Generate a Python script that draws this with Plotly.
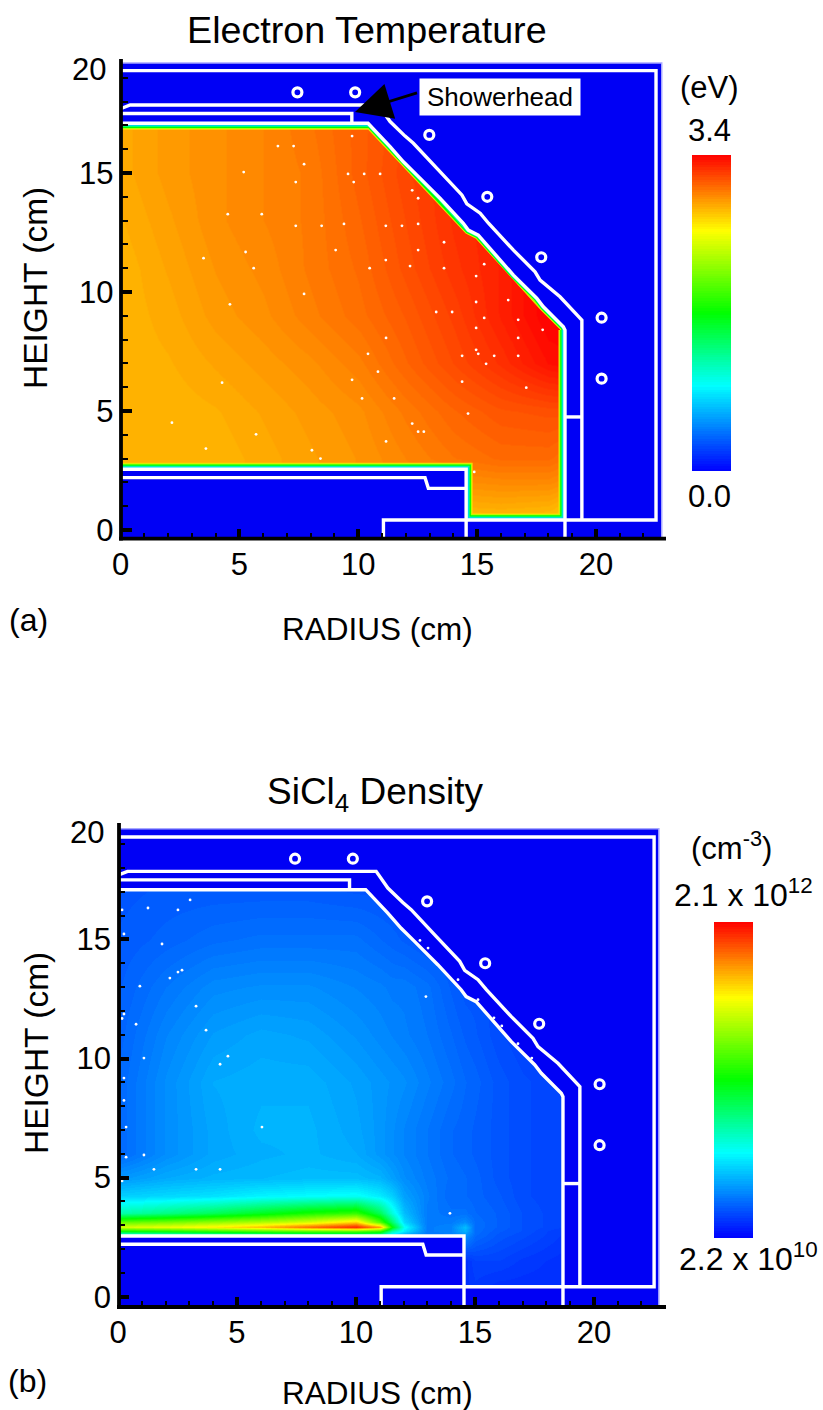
import plotly.graph_objects as go

W, H = 823, 1410
FONT = "Liberation Sans"
BLUE = "#0000F5"

# ---- colour levels (position on each colour bar, 0..1)
temp_x = [0, 2, 4, 6, 8, 10, 12, 14, 16, 18, 18.8]
temp_y = [0.4, 1, 2, 3, 5, 7, 9, 11, 13, 15, 17.2]
temp_level = [
    [.82, .82, .82, .82, .82, .82, .82, .815, .815, .815, .80],
    [.83, .83, .83, .83, .83, .83, .83, .835, .84, .835, .82],
    [.83, .83, .83, .84, .85, .86, .87, .865, .87, .87, .86],
    [.835, .83, .83, .84, .85, .86, .875, .89, .90, .90, .89],
    [.835, .83, .835, .845, .855, .865, .885, .905, .92, .925, .925],
    [.83, .835, .845, .855, .865, .88, .905, .93, .955, .985, .99],
    [.83, .84, .855, .865, .88, .895, .915, .94, .97, 1, 1],
    [.83, .845, .86, .87, .885, .90, .925, .95, .97, 1, 1],
    [.835, .85, .865, .875, .885, .905, .93, .955, .97, 1, 1],
    [.84, .855, .865, .875, .885, .91, .935, .955, .97, 1, 1],
    [.84, .855, .865, .875, .89, .91, .93, .95, .97, 1, 1],
]

sicl4_x = [0, 2, 4, 6, 8, 10, 11, 11.5, 12, 13, 14, 14.6, 15, 16, 17, 18.8]
sicl4_y = [0.4, 1.5, 2.55, 2.75, 2.95, 3.15, 3.5, 4.25, 5, 6, 7, 9, 11, 13, 15, 17.2]
sicl4_level = [
    [.05, .05, .05, .05, .05, .05, .05, .05, .05, .05, .05, .05, .06, .05, .05, .05],
    [.05, .05, .05, .05, .05, .05, .05, .05, .05, .05, .05, .05, .07, .07, .06, .05],
    [.20, .22, .25, .27, .30, .30, .30, .20, .16, .12, .13, .15, .11, .09, .08, .06],
    [.50, .52, .55, .58, .60, .60, .55, .35, .25, .13, .14, .19, .115, .095, .085, .06],
    [.72, .74, .77, .82, .90, .97, .85, .50, .28, .13, .14, .20, .115, .10, .085, .07],
    [.60, .62, .65, .68, .72, .80, .58, .40, .23, .13, .13, .15, .115, .10, .085, .07],
    [.34, .38, .42, .47, .52, .55, .42, .30, .20, .13, .12, .12, .11, .10, .085, .07],
    [.22, .23, .24, .26, .27, .28, .25, .22, .17, .135, .11, .11, .105, .095, .08, .07],
    [.16, .18, .19, .195, .20, .20, .19, .17, .15, .13, .115, .11, .105, .09, .08, .07],
    [.11, .15, .175, .185, .19, .18, .16, .15, .14, .125, .11, .105, .10, .09, .08, .07],
    [.11, .15, .175, .19, .19, .175, .16, .15, .14, .125, .11, .105, .10, .09, .08, .07],
    [.11, .15, .18, .185, .185, .17, .16, .155, .15, .135, .12, .11, .105, .09, .08, .07],
    [.105, .14, .165, .175, .17, .155, .145, .14, .135, .125, .11, .10, .095, .08, .07, .07],
    [.10, .125, .145, .15, .15, .14, .135, .13, .13, .12, .10, .09, .09, .08, .07, .07],
    [.095, .105, .115, .12, .12, .12, .11, .105, .10, .09, .09, .08, .08, .08, .07, .07],
    [.09, .095, .095, .095, .095, .09, .09, .09, .09, .08, .08, .08, .08, .08, .07, .07],
]

# ---- reactor geometry, cm
inner_slant_x = [10.41, 11.34, 11.9, 12.46, 13.44, 14.42, 14.63, 15.05, 15.55, 16.53, 17.51, 17.79, 18.63, 18.7]
inner_slant_y = [17.09, 16.11, 15.47, 14.92, 13.94, 12.89, 12.6, 12.39, 11.84, 10.71, 9.74, 9.38, 8.54, 8.4]
outer_slant_x = [10.85, 11.34, 11.97, 12.32, 13.37, 14.36, 14.57, 15.13, 15.48, 16.53, 17.44, 17.65, 18.49, 19.41]
outer_slant_y = [17.86, 17.16, 16.55, 16.25, 15.13, 14.08, 13.7, 13.31, 12.89, 11.76, 10.85, 10.5, 9.8, 8.82]
flat_top_x = [0, 10.41]
flat_top_y = [17.09, 17.09]
pocket_x = [18.7, 18.7, 14.54, 14.54, 0]
pocket_y = [8.4, 0.42, 0.42, 2.55, 2.55]

wall_x = ([0, 22.53, 22.53, 11.06, 11.06, None]
          + [0, 0.4] + outer_slant_x + [19.41, 19.41, None]
          + [0, 9.73, 9.73, None]
          + flat_top_x + inner_slant_x + [18.7, 18.7, None]
          + [0, 14.54, 14.54, None]
          + [0, 12.81, 12.95, 14.54, None]
          + [18.7, 19.41])
wall_y = ([19.3, 19.3, 0.42, 0.42, -0.45, None]
          + [17.7, 17.86] + outer_slant_y + [8.82, 0.42, None]
          + [17.5, 17.5, 17.09, None]
          + flat_top_y + inner_slant_y + [8.4, -0.45, None]
          + [2.55, 2.55, -0.45, None]
          + [2.2, 2.2, 1.75, 1.75, None]
          + [4.75, 4.75])

ring_x = [7.44, 9.87, 12.99, 15.43, 17.7, 20.24, 20.24]
ring_y = [18.39, 18.39, 16.6, 14.0, 11.46, 8.92, 6.36]

temp_dot_x = [9.74, 6.62, 7.28, 7.72, 5.18, 9.57, 10.25, 10.92, 7.37, 9.81, 4.51, 5.94, 7.37, 8.46, 9.4, 11.16,
              11.84, 12.52, 12.27, 12.52, 9.05, 12.52, 5.26, 3.49, 11.16, 12.18, 5.6, 10.48, 7.72, 13.61, 13.61,
              15.3, 14.96, 16.31, 14.96, 13.28, 13.95, 15.3, 16.73, 14.96, 16.73, 17.76, 11.17, 14.96, 15.05,
              10.41, 15.72, 16.73, 14.37, 15.38, 10.83, 9.74, 14.37, 17.07, 10.16, 11.51, 14.62, 12.27, 12.52,
              12.76, 11.17, 14.88, 4.6, 4.27, 2.16, 5.7, 3.59, 8.05, 8.41]
temp_dot_y = [16.55, 16.13, 16.13, 15.37, 15.04, 14.96, 14.96, 14.96, 14.62, 14.62, 13.27, 13.27, 12.78, 12.78, 12.86,
              12.78, 12.78, 12.86, 14.27, 13.94, 11.76, 11.76, 11.68, 11.42, 11.34, 11.09, 11.0, 11.0, 9.92, 12.09,
              11.0, 11.17, 10.67, 9.66, 9.58, 9.16, 9.16, 8.91, 8.83, 8.49, 8.07, 8.41, 8.07, 7.57, 7.4, 7.4,
              7.32, 7.32, 7.32, 6.98, 6.65, 6.31, 6.23, 5.98, 5.53, 5.53, 4.89, 4.47, 4.13, 4.13, 3.72, 2.44,
              9.48, 6.19, 4.51, 4.02, 3.42, 3.35, 3.0]

sicl4_dot_x = [3.03, 1.26, 2.52, 0.17, 0.25, 1.85, 2.69, 2.52, 2.18, 0.92, 3.28, 0.25, 0.17, 0.76, 3.7, 1.09, 4.62,
               4.29, 0.25, 0.25, 12.69, 13.03, 14.29, 12.94, 15.13, 15.8, 16.13, 16.81, 17.39, 0.34, 6.05, 0.34,
               1.09, 1.51, 3.28, 4.29, 0.17, 13.95]
sicl4_dot_y = [16.66, 16.32, 16.24, 16.24, 15.23, 14.81, 13.71, 13.63, 13.38, 13.04, 12.2, 11.87, 11.68, 11.44, 11.19,
               10.02, 10.1, 9.76, 9.18, 8.24, 14.96, 14.64, 13.31, 12.6, 12.47, 11.71, 11.37, 10.62, 10.02, 7.12,
               7.12, 5.86, 5.95, 5.35, 5.35, 5.35, 4.86, 3.5]

major_ticks = [0, 5, 10, 15]
x_major_ticks = [0, 5, 10, 15, 20]
x_minor_ticks = [1, 2, 3, 4, 6, 7, 8, 9, 11, 12, 13, 14, 16, 17, 18, 19, 21, 22]
y_minor_ticks = [1, 2, 3, 4, 6, 7, 8, 9, 11, 12, 13, 14, 16, 17, 18, 19]

# ---- colour scale: anchors of the rainbow bar, in visible steps
anchors = [(0, (0, 0, 255)), (.27, (0, 255, 255)), (.5, (0, 255, 0)), (.76, (255, 255, 0)), (1, (255, 0, 0))]
STEPS = 128


def colour_at(t):
    for (a, ca), (b, cb) in zip(anchors, anchors[1:]):
        if t <= b:
            f = (t - a) / (b - a)
            return "rgb(%d,%d,%d)" % tuple(round(p + (q - p) * f) for p, q in zip(ca, cb))
    return "rgb(255,0,0)"


colorscale = []
for i in range(STEPS):
    c = colour_at((i + 0.5) / STEPS)
    colorscale += [[i / STEPS, c], [(i + 1) / STEPS, c]]


def px(v):
    return v / W


def py(v):
    return 1 - v / H


fig = go.Figure()


def add_panel(suffix, hx, hy, hz, dots_x, dots_y, blue_right, blue_top, y_bottom, bar_left, bar_top, bar_bottom, edges):
    ax = dict(xaxis="x" + suffix, yaxis="y" + suffix)
    fig.add_trace(go.Heatmap(
        x=hx, y=hy, z=hz, zmin=0, zmax=1, zsmooth="best", colorscale=colorscale,
        colorbar=dict(x=px(bar_left), xanchor="left", xpad=0, y=py(bar_bottom), yanchor="bottom", ypad=0,
                      len=(bar_bottom - bar_top) / H, thickness=38.5, outlinewidth=0,
                      showticklabels=False, ticks=""),
        hoverinfo="skip", **ax))
    if edges:
        for width, col in [(13, "#FFD800"), (11.5, "#B0FF00"), (9.5, "#00FF00"), (7, "#00FFA0"), (5, "#00C8FF")]:
            fig.add_trace(go.Scatter(x=flat_top_x + [None] + pocket_x, y=flat_top_y + [None] + pocket_y, mode="lines",
                                     line=dict(color=col, width=width), showlegend=False, hoverinfo="skip", **ax))
            fig.add_trace(go.Scatter(x=inner_slant_x, y=inner_slant_y, mode="lines",
                                     line=dict(color=col, width=width * 0.65), showlegend=False, hoverinfo="skip", **ax))
    # everything outside the plasma is a flat blue field
    mask_x = flat_top_x + inner_slant_x + pocket_x + [0, blue_right, blue_right, 0]
    mask_y = flat_top_y + inner_slant_y + pocket_y + [y_bottom, y_bottom, blue_top, blue_top]
    fig.add_trace(go.Scatter(x=mask_x, y=mask_y, mode="lines", fill="toself", fillcolor=BLUE,
                             line=dict(width=0), showlegend=False, hoverinfo="skip", **ax))
    fig.add_trace(go.Scatter(x=[0, blue_right, blue_right], y=[blue_top, blue_top, y_bottom], mode="lines",
                             line=dict(color="#A8A8FF", width=1.5), showlegend=False, hoverinfo="skip", **ax))
    fig.add_trace(go.Scatter(x=dots_x, y=dots_y, mode="markers",
                             marker=dict(color="#FFFFFF", size=2.8, line=dict(width=0)),
                             showlegend=False, hoverinfo="skip", **ax))
    fig.add_trace(go.Scatter(x=wall_x, y=wall_y, mode="lines", line=dict(color="#FFFFFF", width=3.4),
                             connectgaps=False, showlegend=False, hoverinfo="skip", **ax))
    fig.add_trace(go.Scatter(x=ring_x, y=ring_y, mode="markers",
                             marker=dict(symbol="circle-open", color="#FFFFFF", size=9, line=dict(width=3.2, color="#FFFFFF")),
                             showlegend=False, hoverinfo="skip", **ax))


add_panel("", temp_x, temp_y, temp_level, temp_dot_x, temp_dot_y, 22.77, 19.62, -0.37, 692, 155, 471, True)
add_panel("2", sicl4_x, sicl4_y, sicl4_level, sicl4_dot_x, sicl4_dot_y, 22.73, 19.65, -0.43, 714, 922, 1238, False)


def axes(left, right, top, bottom, xr, yr, yname):
    tick = dict(ticks="inside", tickcolor="#000000", showgrid=False, zeroline=False, showline=False, automargin=False,
                tickfont=dict(family=FONT, size=31, color="#000000"))
    xa = dict(domain=[px(left), px(right)], range=xr, anchor=yname, tickmode="array", tickvals=x_major_ticks,
              ticklen=10, tickwidth=3.5, ticklabelstandoff=4,
              minor=dict(tickmode="array", tickvals=x_minor_ticks, ticks="inside", ticklen=6, tickwidth=2,
                         tickcolor="#000000", showgrid=False), **tick)
    ya = dict(domain=[py(bottom), py(top)], range=yr, tickmode="array", tickvals=major_ticks,
              ticklen=11, tickwidth=3.5, ticklabelstandoff=6,
              minor=dict(tickmode="array", tickvals=y_minor_ticks, ticks="inside", ticklen=7, tickwidth=2,
                         tickcolor="#000000", showgrid=False), **tick)
    return xa, ya


xa1, ya1 = axes(120.6, 666, 59, 538.7, [0, 22.95], [-0.366, 19.79], "y")
xa2, ya2 = axes(118, 666, 823, 1307, [0, 23.03], [-0.433, 19.89], "y2")
ya1["anchor"] = "x"
ya2["anchor"] = "x2"


def text(s, x, y, size=31, **kw):
    d = dict(text=s, x=px(x), y=py(y), xref="paper", yref="paper", showarrow=False,
             font=dict(family=FONT, size=size, color="#000000"), xanchor="center", yanchor="middle")
    d.update(kw)
    return d


annotations = [
    text("Electron Temperature", 367, 30, 37.7),
    text("SiCl<sub>4</sub> Density", 375, 794, 37),
    text("RADIUS (cm)", 377, 629, 31.5),
    text("RADIUS (cm)", 377, 1393, 31.5),
    text("HEIGHT (cm)", 36, 288, 33.5, textangle=-90),
    text("HEIGHT (cm)", 36, 1053, 33.5, textangle=-90),
    text("20", 108, 69, xanchor="right"),
    text("20", 106, 832, xanchor="right"),
    text("(a)", 28, 620, 32),
    text("(b)", 27, 1381, 32),
    text("(eV)", 709, 88),
    text("3.4", 709, 131),
    text("0.0", 709, 496),
    text("(cm<sup>-3</sup>)", 731, 846, 31),
    text("2.1 x 10<sup>12</sup>", 743, 893, 32),
    text("2.2 x 10<sup>10</sup>", 748, 1257, 32),
    text("Showerhead", 500, 97, 26, bgcolor="#FFFFFF", width=160, height=36, borderpad=0),
    dict(text=" ", x=px(355), y=py(112), xref="paper", yref="paper", ax=65, ay=-20,
         showarrow=True, arrowhead=2, arrowsize=2.6, arrowwidth=2.8, arrowcolor="#000000", standoff=0),
]


def line(x0, y0, x1, y1):
    return dict(type="line", xref="paper", yref="paper", x0=px(x0), y0=py(y0), x1=px(x1), y1=py(y1),
                line=dict(color="#000000", width=3.8), layer="above")


shapes = [line(121, 59, 121, 540.5), line(119, 538.7, 666, 538.7),
          line(119, 823, 119, 1309), line(117, 1307, 666, 1307)]

fig.update_layout(
    template="none",
    width=W, height=H, margin=dict(l=0, r=0, t=0, b=0, autoexpand=False), autosize=False,
    paper_bgcolor="#FFFFFF", plot_bgcolor="#FFFFFF", showlegend=False,
    xaxis=xa1, yaxis=ya1, xaxis2=xa2, yaxis2=ya2,
    annotations=annotations, shapes=shapes,
)

fig.write_html("out.html", post_script="document.body.style.margin='0';document.documentElement.style.overflow='hidden';",
               config=dict(displayModeBar=False))
